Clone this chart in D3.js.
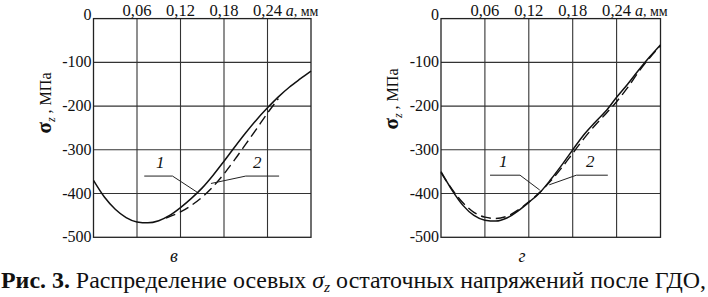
<!DOCTYPE html>
<html lang="ru">
<head>
<meta charset="UTF-8">
<title>Рис. 3</title>
<style>
  body { margin: 0; padding: 0; background: #fff; }
</style>
</head>
<body>
<div id="chart"></div>
<script src="https://cdn.jsdelivr.net/npm/d3@7"></script>
<script>
// значения
const xTicks = [0.06, 0.12, 0.18, 0.24];
const xTickLabels = ['0,06', '0,12', '0,18', '0,24'];
const yTicks = [0, -100, -200, -300, -400, -500];
const yTickLabels = ['0', '-100', '-200', '-300', '-400', '-500'];
const panelNames = ['в', 'г'];

// панель в
const aV1 = [0, 0.015, 0.03, 0.045, 0.06, 0.075, 0.09, 0.105, 0.12, 0.135, 0.15, 0.165, 0.18, 0.195, 0.21, 0.225, 0.24, 0.255, 0.27, 0.285, 0.30];
const sV1 = [-370, -408, -436, -455, -465, -467, -462, -450, -432, -411, -387, -358, -326, -293, -261, -231, -204, -179, -157, -138, -120];
const aV2 = [0.10, 0.12, 0.135, 0.15, 0.165, 0.18, 0.195, 0.21, 0.225, 0.24, 0.255];
const sV2 = [-456, -442, -427, -408, -384, -355, -322, -287, -252, -216, -183];

// панель г
const aG1 = [0, 0.015, 0.03, 0.045, 0.06, 0.075, 0.09, 0.105, 0.12, 0.135, 0.15, 0.165, 0.18, 0.195, 0.21, 0.225, 0.24, 0.255, 0.27, 0.285, 0.30];
const sG1 = [-350, -392, -427, -450, -461, -463, -456, -440, -420, -398, -368, -335, -300, -266, -238, -212, -180, -150, -118, -88, -60];
const aG2 = [0, 0.015, 0.03, 0.045, 0.06, 0.075, 0.09, 0.105, 0.12, 0.135, 0.15, 0.165, 0.18, 0.195, 0.21, 0.225, 0.24, 0.255, 0.27, 0.285, 0.30];
const sG2 = [-352, -390, -421, -443, -454, -457, -452, -438, -419, -397, -371, -341, -308, -275, -245, -218, -190, -158, -122, -90, -62];

// выноски 1 и 2: полка, точка на кривой — в единицах графика
const leadersV = [
  { label: '1', shelf: [0.07, 0.109], tip: [0.143, -397], y: -360, lx: 0.092 },
  { label: '2', shelf: [0.256, 0.21], tip: [0.162, -377], y: -360, lx: 0.226 }
];
const leadersG = [
  { label: '1', shelf: [0.067, 0.108], tip: [0.135, -392], y: -358, lx: 0.085 },
  { label: '2', shelf: [0.228, 0.185], tip: [0.148, -380], y: -358, lx: 0.204 }
];

const W = 708, H = 297;
const svg = d3.select('#chart').append('svg')
  .attr('width', W).attr('height', H)
  .attr('font-family', "'Liberation Serif', Tinos, 'Times New Roman', Times, serif")
  .attr('fill', '#111');

const panels = [
  { left: 93.5, right: 311, s1: [aV1, sV1], s2: [aV2, sV2], leaders: leadersV, nameX: 174, titleX: 51, titleY: 103 },
  { left: 441, right: 660.5, s1: [aG1, sG1], s2: [aG2, sG2], leaders: leadersG, nameX: 522, titleX: 398, titleY: 99 }
];

const yTop = 18.6, yBottom = 237.3;
const y = d3.scaleLinear().domain([0, -500]).range([yTop, yBottom]);

panels.forEach((p, i) => {
  const x = d3.scaleLinear().domain([0, 0.30]).range([p.left, p.right]);
  const g = svg.append('g');

  // сетка
  g.selectAll('.vg').data(xTicks).enter().append('line')
    .attr('x1', d => x(d)).attr('x2', d => x(d))
    .attr('y1', yTop).attr('y2', yBottom)
    .attr('stroke', '#333').attr('stroke-width', 1.1);
  g.selectAll('.hg').data(yTicks.slice(1, -1)).enter().append('line')
    .attr('x1', p.left).attr('x2', p.right)
    .attr('y1', d => y(d)).attr('y2', d => y(d))
    .attr('stroke', '#333').attr('stroke-width', 1.1);
  g.append('rect')
    .attr('x', p.left).attr('y', yTop)
    .attr('width', p.right - p.left).attr('height', yBottom - yTop)
    .attr('fill', 'none').attr('stroke', '#222').attr('stroke-width', 1.3);

  // подписи осей
  g.selectAll('.xl').data(xTicks).enter().append('text')
    .attr('x', d => x(d)).attr('y', 16)
    .attr('text-anchor', 'middle').attr('font-size', 16)
    .attr('textLength', 29).attr('lengthAdjust', 'spacingAndGlyphs')
    .text((d, k) => xTickLabels[k]);
  const al = g.append('text').attr('x', x(0.265)).attr('y', 16).attr('font-size', 16);
  al.append('tspan').attr('font-style', 'italic').text('a');
  al.append('tspan').attr('font-size', 14).text(', мм');

  g.selectAll('.yl').data(yTicks).enter().append('text')
    .attr('x', p.left - 2).attr('y', d => y(d) + (d === 0 ? 1 : 5))
    .attr('text-anchor', 'end').attr('font-size', 16)
    .text((d, k) => yTickLabels[k]);

  const yt = g.append('text')
    .attr('transform', `translate(${p.titleX},${p.titleY}) rotate(-90)`)
    .attr('text-anchor', 'middle').attr('font-size', 16);
  yt.append('tspan').attr('font-weight', 'bold').attr('font-size', 21).text('σ');
  yt.append('tspan').attr('font-style', 'italic').attr('font-size', 12).attr('dy', 4).text('z');
  yt.append('tspan').attr('dy', -4).text(' ,  МПа');

  // кривые
  const line = d3.line().x(d => x(d[0])).y(d => y(d[1])).curve(d3.curveMonotoneX);
  const d1 = d3.zip(p.s1[0], p.s1[1]);
  const d2 = d3.zip(p.s2[0], p.s2[1]);
  g.append('path').datum(d2).attr('d', line)
    .attr('fill', 'none').attr('stroke', '#111').attr('stroke-width', 1.4)
    .attr('stroke-dasharray', '10,5');
  g.append('path').datum(d1).attr('d', line)
    .attr('fill', 'none').attr('stroke', '#111').attr('stroke-width', 1.5);

  // выноски
  p.leaders.forEach(l => {
    g.append('polyline')
      .attr('points', [[x(l.shelf[0]), y(l.y)], [x(l.shelf[1]), y(l.y)], [x(l.tip[0]), y(l.tip[1])]].map(q => q.join(',')).join(' '))
      .attr('fill', 'none').attr('stroke', '#222').attr('stroke-width', 1);
    g.append('text').attr('x', x(l.lx)).attr('y', y(l.y) - 8)
      .attr('text-anchor', 'middle').attr('font-size', 17).attr('font-style', 'italic')
      .text(l.label);
  });

  g.append('text').attr('x', p.nameX).attr('y', 262)
    .attr('text-anchor', 'middle').attr('font-size', 18).attr('font-style', 'italic')
    .text(panelNames[i]);
});

// подпись рисунка
const cap = svg.append('text').attr('x', 1).attr('y', 288).attr('font-size', 23)
  .attr('textLength', 705).attr('lengthAdjust', 'spacingAndGlyphs');
cap.append('tspan').attr('font-weight', 'bold').text('Рис. 3.');
cap.append('tspan').text(' Распределение осевых ');
cap.append('tspan').attr('font-style', 'italic').text('σ');
cap.append('tspan').attr('font-style', 'italic').attr('font-size', 15).attr('dy', 4).text('z');
cap.append('tspan').attr('dy', -4).text(' остаточных напряжений после ГДО,');
</script>
</body>
</html>
